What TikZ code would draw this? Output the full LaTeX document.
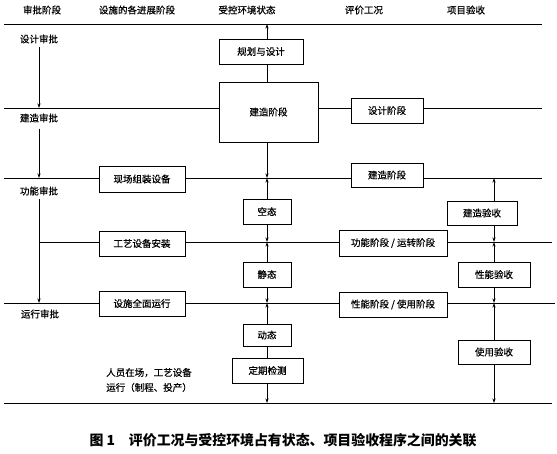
\documentclass[tikz,border=0pt]{standalone}
\usepackage{fontspec}
\setmainfont{Noto Sans CJK SC}
\newfontfamily\hvfont[FakeBold=0.6]{Noto Sans CJK SC}
\usetikzlibrary{arrows.meta,calc}
\begin{document}
\begin{tikzpicture}[x=1pt,y=-1pt,
  box/.style={draw,line width=0.8pt,inner sep=0pt,font=\hvfont\fontsize{9.5}{11}\selectfont},
  hd/.style={font=\hvfont\fontsize{9.5}{11}\selectfont,inner sep=0pt},
  hline/.style={line width=0.9pt},
  conn/.style={line width=0.7pt},
  arr/.style={conn,-{Stealth[length=4.5pt,width=3pt]}}]
\useasboundingbox (0,0) rectangle (557,453);
% headers
\node[hd] (h1) at (42,10) {审批阶段};
\node[hd] (h2) at (137,10) {设施的各进展阶段};
\node[hd] (h3) at (247,10) {受控环境状态};
\node[hd] (h4) at (364,10) {评价工况};
\node[hd] (h5) at (466,10) {项目验收};
% left labels
\node[hd] (a1) at (39,39) {设计审批};
\node[hd] (a2) at (39,118) {建造审批};
\node[hd] (a3) at (39,191) {功能审批};
\node[hd] (a4) at (40,314) {运行审批};
% boxes
\node[box,minimum width=84pt,minimum height=25pt] (gh) at (261,51.5) {规划与设计};
\node[box,minimum width=99pt,minimum height=60pt] (big) at (268.5,112) {建造阶段};
\node[box,minimum width=72pt,minimum height=25pt] (sj) at (387,110.5) {设计阶段};
\node[box,minimum width=86pt,minimum height=26pt] (xc) at (142,179) {现场组装设备};
\node[box,minimum width=72pt,minimum height=24pt] (jz) at (387,175) {建造阶段};
\node[box,minimum width=86pt,minimum height=25pt] (gy) at (142,243.5) {工艺设备安装};
\node[box,minimum width=108pt,minimum height=26pt] (gn) at (393,243) {功能阶段 / 运转阶段};
\node[box,minimum width=86pt,minimum height=25pt] (ss) at (142,303.5) {设施全面运行};
\node[box,minimum width=108pt,minimum height=25pt] (xn) at (393,304.5) {性能阶段 / 使用阶段};
\node[box,minimum width=48pt,minimum height=25pt] (kt) at (267,211.5) {空态};
\node[box,minimum width=48pt,minimum height=25pt] (jt) at (267,274.5) {静态};
\node[box,minimum width=48pt,minimum height=22pt] (dt) at (267,335) {动态};
\node[box,minimum width=71pt,minimum height=25pt] (dq) at (267.5,370.5) {定期检测};
\node[box,minimum width=70pt,minimum height=24pt] (jy) at (482,213) {建造验收};
\node[box,minimum width=72pt,minimum height=25pt] (xy) at (494,274.5) {性能验收};
\node[box,minimum width=72pt,minimum height=24pt] (sy) at (494,352) {使用验收};
% note
\node[hd,align=center,font=\hvfont\fontsize{9.5}{15}\selectfont] (note) at (149,380) {人员在场，工艺设备\\运行（制程、投产）};
% caption
\node[inner sep=0pt,font=\fontsize{13.9}{16}\selectfont\bfseries] (cap) at (283,440) {图 1\quad 评价工况与受控环境占有状态、项目验收程序之间的关联};
% coordinates
\coordinate (T0) at (4,24); \coordinate (T1) at (542,24); \coordinate (Tm) at (267,24);
\coordinate (A0) at (4,108); \coordinate (A1) at (542,108); \coordinate (Al) at (39,108);
\coordinate (B0) at (4,178); \coordinate (B1) at (542,178); \coordinate (Bl) at (39,178);
\coordinate (Bm) at (267,178); \coordinate (Br) at (494,178);
\coordinate (C0) at (39,242); \coordinate (C1) at (552,242); \coordinate (Cm) at (267,242); \coordinate (Cr) at (494,242);
\coordinate (D0) at (4,303); \coordinate (D1) at (555,303); \coordinate (Dl) at (39,303);
\coordinate (Dm) at (267,303); \coordinate (Dr) at (494,303);
\coordinate (E0) at (4,403); \coordinate (E1) at (552,403); \coordinate (Em) at (267,403); \coordinate (Er) at (494,403);
% horizontal lines
\draw[hline] (T0) -- (T1);
\draw[hline] (A0) -- (big.west |- A0) (big.east |- A0) -- (sj.west |- A0) (sj.east |- A0) -- (A1);
\draw[hline] (B0) -- (xc.west |- B0) (xc.east |- B0) -- (jz.west |- B0) (jz.east |- B0) -- (B1);
\draw[hline] (C0) -- (gy.west |- C0) (gy.east |- C0) -- (gn.west |- C0) (gn.east |- C0) -- (C1);
\draw[hline] (D0) -- (ss.west |- D0) (ss.east |- D0) -- (xn.west |- D0) (xn.east |- D0) -- (D1);
\draw[hline] (E0) -- (E1);
% left verticals
\draw[arr] ([yshift=-3pt]a1.south) -- (Al);
\draw[arr] ([yshift=-6pt]a2.south) -- (Bl);
\draw[arr] ([yshift=-3pt]a3.south) -- (Dl);
% middle column
\draw[arr] (gh.north -| Tm) -- (Tm);
\draw[conn] (gh.south -| Tm) -- (big.north -| Tm);
\draw[arr] (big.south -| Bm) -- (Bm);
\draw[arr] (kt.north) -- (Bm);
\draw[arr] (kt.south) -- (Cm);
\draw[arr] (jt.north) -- (Cm);
\draw[arr] (jt.south) -- (Dm);
\draw[arr] (dt.north) -- (Dm);
\draw[conn] (dt.south) -- (dq.north -| dt.south);
\draw[arr] (dq.south -| Em) -- (Em);
% right column
\draw[arr] (jy.north -| Br) -- (Br);
\draw[arr] (jy.south -| Cr) -- (Cr);
\draw[arr] (xy.north) -- (Cr);
\draw[arr] (xy.south) -- (Dr);
\draw[arr] (sy.north) -- (Dr);
\draw[arr] (sy.south) -- (Er);
\end{tikzpicture}
\end{document}
